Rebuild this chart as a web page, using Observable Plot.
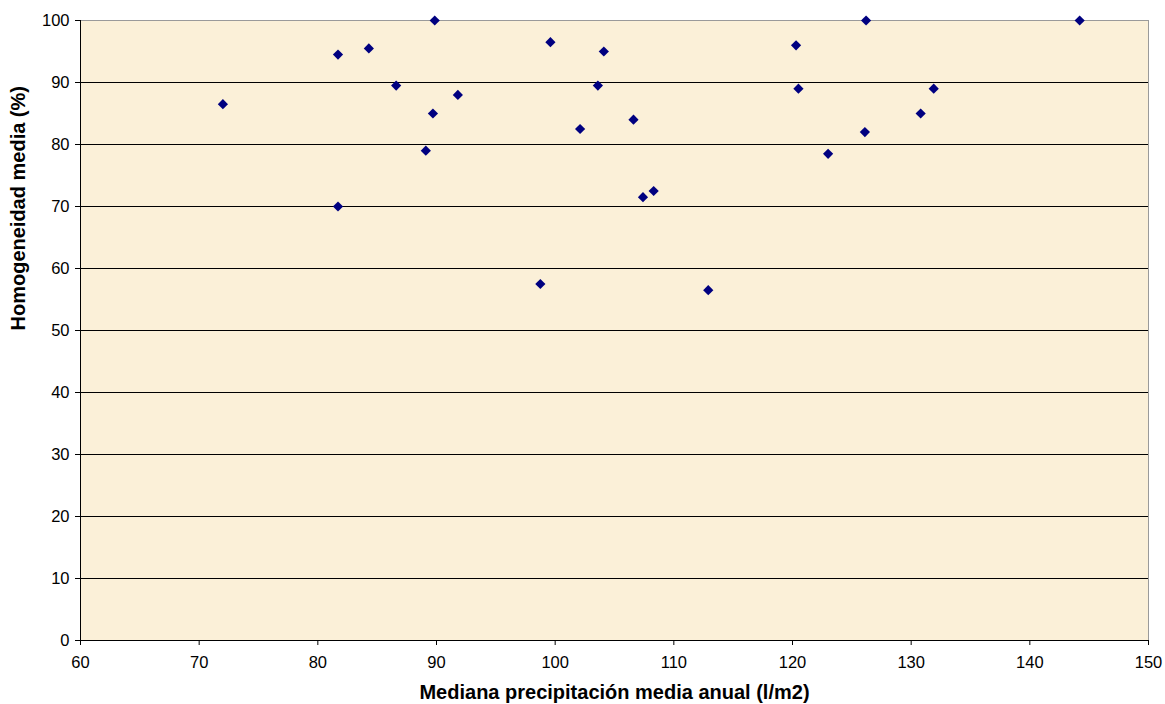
<!DOCTYPE html>
<html>
<head>
<meta charset="utf-8">
<script src="https://cdn.jsdelivr.net/npm/d3@7"></script>
<script src="https://cdn.jsdelivr.net/npm/@observablehq/plot@0.6"></script>
<style>
  html, body { margin: 0; padding: 0; background: #ffffff; }
  #chart svg { display: block; font-family: "Liberation Sans", Arial, sans-serif; }
  #chart g[aria-label="x-axis tick label"] text,
  #chart g[aria-label="y-axis tick label"] text { font-size: 16.5px; fill: #000; }
</style>
</head>
<body>
<div id="chart"></div>
<script>
// Mediana precipitación media anual (l/m2)
const precipitacion = [72.0, 81.7, 84.3, 86.6, 81.7, 89.85, 99.6, 104.1, 103.6, 91.8, 89.7, 106.6, 102.1, 89.1, 108.3, 107.4, 98.75, 112.9, 126.2, 144.2, 120.3, 120.5, 131.9, 130.8, 126.1, 123.0];
// Homogeneidad media (%)
const homogeneidad = [86.5, 94.5, 95.5, 89.5, 70.0, 100, 96.5, 95.0, 89.5, 88.0, 85.0, 84.0, 82.5, 79.0, 72.5, 71.5, 57.5, 56.5, 100, 100, 96.0, 89.0, 89.0, 85.0, 82.0, 78.5];

const xTicks = [60, 70, 80, 90, 100, 110, 120, 130, 140, 150];
const yTicks = [0, 10, 20, 30, 40, 50, 60, 70, 80, 90, 100];
const xTitle = "Mediana precipitación media anual (l/m2)";
const yTitle = "Homogeneidad media (%)";

const data = precipitacion.map((x, i) => ({x, y: homogeneidad[i]}));

const chart = Plot.plot({
  width: 1165,
  height: 704,
  marginLeft: 80,
  marginTop: 20,
  marginRight: 17,
  marginBottom: 64,
  style: {fontFamily: '"Liberation Sans", Arial, sans-serif', background: "transparent", overflow: "visible"},
  x: {domain: [60, 150]},
  y: {domain: [0, 100]},
  marks: [
    Plot.frame({fill: "#FBF0D8", stroke: "#9a9a9a"}),
    Plot.ruleY(yTicks.filter(d => d > 0 && d < 100), {stroke: "#000", strokeWidth: 1}),
    Plot.ruleX([60], {stroke: "#000"}),
    Plot.ruleY([0], {stroke: "#000"}),
    Plot.axisX(xTicks, {tickSize: 5, tickPadding: 11, label: null, stroke: "#000"}),
    Plot.axisY(yTicks, {tickSize: 5, tickPadding: 6, label: null, stroke: "#000"}),
    Plot.text([xTitle], {frameAnchor: "bottom", dy: 52, lineAnchor: "middle", fontSize: 20, fontWeight: "bold", fill: "#000"}),
    Plot.text([yTitle], {frameAnchor: "left", dx: -62, rotate: -90, lineAnchor: "middle", fontSize: 20, fontWeight: "bold", fill: "#000"}),
    Plot.dot(data, {x: "x", y: "y", symbol: "diamond2", r: 4.6, fill: "#000080", stroke: "none"})
  ]
});
document.getElementById("chart").appendChild(chart);
</script>
</body>
</html>
